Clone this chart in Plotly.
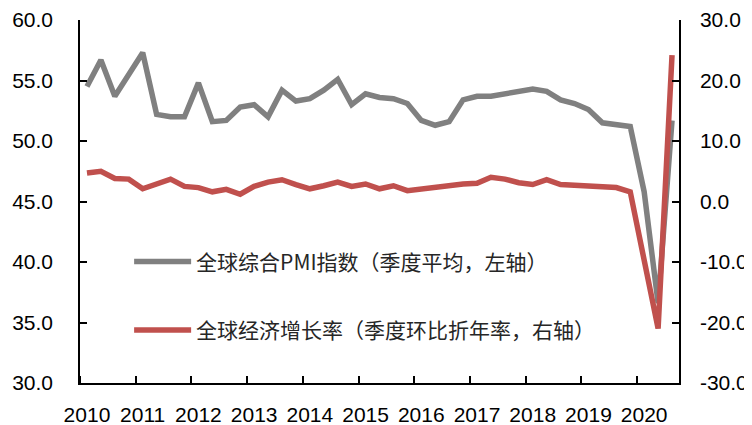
import plotly.graph_objects as go

years = ["2010", "2011", "2012", "2013", "2014", "2015", "2016", "2017", "2018", "2019", "2020"]
quarters = [f"{y}Q{q}" for y in range(2010, 2021) for q in range(1, 5)][:43]

pmi = [54.5, 56.7, 53.7, 55.5, 57.3, 52.2, 52.0, 52.0, 54.8, 51.6,
       51.7, 52.8, 53.0, 52.0, 54.2, 53.3, 53.5, 54.2, 55.1, 53.0,
       53.9, 53.6, 53.5, 53.1, 51.7, 51.3, 51.6, 53.4, 53.7, 53.7,
       53.9, 54.2, 54.3, 54.1, 53.4, 53.1, 52.6, 51.5, 51.3, 51.2,
       45.8, 36.6, 51.7]
gdp = [4.7, 5.0, 3.8, 3.7, 2.1, 2.8, 3.7, 2.5, 2.3, 1.6,
       2.0, 1.2, 2.5, 3.2, 3.6, 2.8, 2.1, 2.6, 3.2, 2.5,
       2.9, 2.1, 2.6, 1.8, 2.1, 2.3, 2.8, 2.9, 3.0, 4.0,
       3.7, 3.1, 2.8, 3.6, 2.8, 2.7, 2.6, 2.3, 2.3, 1.6,
       -9.8, -21.0, 24.2]

left_ticks = [30, 35, 40, 45, 50, 55, 60]
left_labels = ["30.0", "35.0", "40.0", "45.0", "50.0", "55.0", "60.0"]
right_ticks = [-30, -20, -10, 0, 10, 20, 30]
right_labels = ["-30.0", "-20.0", "-10.0", "0.0", "10.0", "20.0", "30.0"]

name_pmi = "全球综合PMI指数（季度平均，左轴）"
name_gdp = "全球经济增长率（季度环比折年率，右轴）"

x = list(range(len(quarters)))
# each year label sits on its first quarter
year_pos = [4 * k for k in range(len(years))]

fig = go.Figure()
fig.add_trace(go.Scatter(x=x, y=pmi, name=name_pmi, mode="lines",
                         line=dict(color="#808080", width=5.5), legendgroup="a",
                         customdata=quarters, hovertemplate="%{customdata}: %{y}<extra></extra>"))
fig.add_trace(go.Scatter(x=x, y=gdp, name=name_gdp, mode="lines", yaxis="y2",
                         line=dict(color="#C0504D", width=5.5), legendgroup="b",
                         customdata=quarters, hovertemplate="%{customdata}: %{y}<extra></extra>"))

tick_font = dict(family="Liberation Sans, Arial, sans-serif", size=21, color="#000000")

# the page body adds an 8px margin, so the figure is 8px smaller than the window
fig.update_layout(
    width=744, height=417,
    margin=dict(l=72, r=73, t=12, b=42, autoexpand=False),
    paper_bgcolor="white", plot_bgcolor="white",
    showlegend=True,
    legend=dict(x=0.082, y=0.39, xanchor="left", yanchor="top", itemwidth=57,
                bgcolor="rgba(0,0,0,0)", tracegroupgap=38, traceorder="grouped",
                font=dict(family="Noto Sans CJK SC", size=21, color="#262626")),
    xaxis=dict(range=[-0.5, 42.5], showline=True, linecolor="#000000", linewidth=1.5,
               tickvals=year_pos, ticktext=years, ticks="", showgrid=False, zeroline=False,
               tickfont=tick_font, ticklabelstandoff=12, automargin=False,
               minor=dict(tick0=-0.5, dtick=4, ticks="inside", ticklen=7,
                          tickcolor="#000000", tickwidth=1.5, showgrid=False)),
    yaxis=dict(range=[30, 60], tickvals=left_ticks, ticktext=left_labels, showline=True,
               linecolor="#000000", automargin=False,
               linewidth=1.5, ticks="inside", ticklen=7, tickcolor="#000000", tickwidth=1.5,
               showgrid=False, zeroline=False, tickfont=tick_font, ticklabelstandoff=21),
    yaxis2=dict(range=[-30, 30], tickvals=right_ticks, ticktext=right_labels, overlaying="y",
                side="right", automargin=False,
                showline=True, linecolor="#000000", linewidth=1.5, ticks="inside", ticklen=7,
                tickcolor="#000000", tickwidth=1.5, showgrid=False, zeroline=False,
                tickfont=tick_font, ticklabelstandoff=15),
)

fig.write_html("out.html")
